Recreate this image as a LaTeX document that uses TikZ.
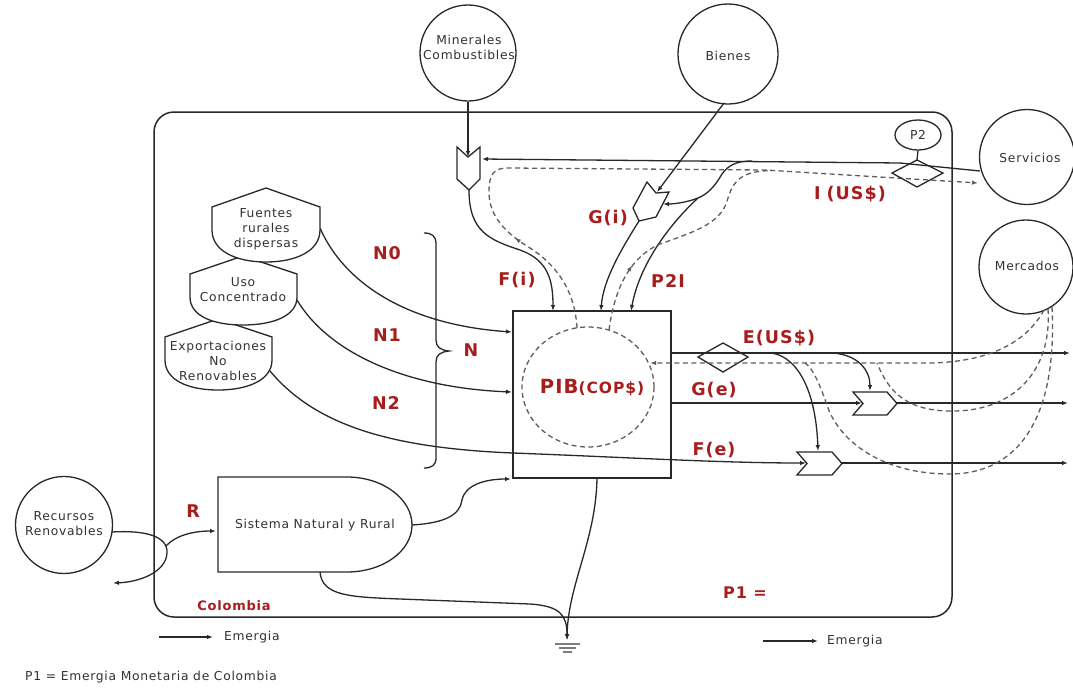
\documentclass[tikz,border=0pt]{standalone}
\usepackage{fontspec}
\setmainfont{DejaVu Sans}[LetterSpace=6]
\usetikzlibrary{arrows.meta,decorations.markings,shapes.geometric}
\definecolor{ink}{RGB}{40,40,40}
\definecolor{txt}{RGB}{50,50,50}
\definecolor{lbl}{RGB}{168,28,28}
\definecolor{earth}{RGB}{125,125,125}
\newcommand\dgsmall{\fontsize{12.3}{15}\selectfont}
\newcommand\dgtag{\fontsize{17.5}{20}\selectfont\bfseries}
\begin{document}
\begin{tikzpicture}[x=1pt,y=-1pt,
  wire/.style={draw=ink, line width=1.3pt},
  flow/.style={wire, -{Latex[length=6pt,width=4.5pt]}},
  money/.style={draw=ink!75, line width=1.3pt, dash pattern=on 5pt off 3.5pt},
  moneyin/.style={money, -{Latex[length=6pt,width=4.5pt]}},
  midtip/.style={postaction={decorate}, decoration={markings,
      mark=at position #1 with {\arrow{Latex[length=6pt,width=4.5pt]}}}},
  circ/.style={draw=ink, line width=1.3pt, circle, inner sep=0pt, minimum size=#1},
  word/.style={text=txt, font=\dgsmall, align=center, inner sep=0pt},
  tag/.style={text=lbl, font=\dgtag, inner sep=0pt},
  gate/.style={draw=ink, line width=1.3pt, fill=white},
  src/.style={draw=ink, line width=1.3pt, fill=white}]

\useasboundingbox[fill=white] (0,0) rectangle (1073,691);

% system boundary
\draw[draw=ink, line width=1.5pt, rounded corners=20pt] (154,112) rectangle (952,617);

% outside sources and sinks
\node[circ=96pt]  (minc) at (468,53) {};
\node[word]       (mint) at (469,47) {Minerales\\Combustibles};
\node[circ=100pt] (bien) at (728,54) {};
\node[word]       (bient) at (728,56) {Bienes};
\node[circ=95pt]  (serv) at (1027,157) {};
\node[word]       (servt) at (1030,158) {Servicios};
\node[circ=94pt]  (merc) at (1026,267) {};
\node[word]       (merct) at (1027,266) {Mercados};
\node[circ=97pt]  (recu) at (64,525) {};
\node[word]       (recut) at (64,524) {Recursos\\Renovables};

% named points used by the connectors
\coordinate (mgN) at (468,157);
\coordinate (mgE) at (482,159);
\coordinate (mgS) at (469,190);
\coordinate (gN) at (657,192);
\coordinate (gE) at (663,204);
\coordinate (gS) at (639,221);
\coordinate (bienS) at (724,103);
\coordinate (svW) at (980,171);
\coordinate (svWd) at (978,183);
\coordinate (jI) at (752,161);
\coordinate (jP) at (698,198);
\coordinate (jM) at (772,170.5);
\coordinate (pT1) at (553,311);
\coordinate (pT2) at (601,311);
\coordinate (pT3) at (631,311);
\coordinate (cTop1) at (577,328);
\coordinate (cTop2) at (609,330);
\coordinate (cR) at (650,363);
\coordinate (pR1) at (671,353);
\coordinate (pR2) at (671,403);
\coordinate (pL1) at (512,332);
\coordinate (pL2) at (512,392);
\coordinate (pL3) at (511,479);
\coordinate (pB) at (597,478);
\coordinate (eOut) at (1070,353);
\coordinate (gOut) at (1068,403);
\coordinate (fOut) at (1068,463);
\coordinate (jE1) at (772,353);
\coordinate (jE2) at (833,353);
\coordinate (geN) at (870,391);
\coordinate (geW) at (862,403);
\coordinate (geE) at (897,403);
\coordinate (feN) at (818,451);
\coordinate (feW) at (806,463);
\coordinate (feE) at (842,463);
\coordinate (mS1) at (1044,310);
\coordinate (mS2) at (1048,309);
\coordinate (mS3) at (1052,307);
\coordinate (jR2) at (877,363);
\coordinate (jR3) at (805,363);
\coordinate (fuR) at (320,228);
\coordinate (usR) at (297,300);
\coordinate (exR) at (270,371);
\coordinate (siR) at (412,525);
\coordinate (siW) at (216,531);
\coordinate (siB) at (320,572);
\coordinate (reR) at (112,532);
\coordinate (reOut) at (113,583);
\coordinate (jR) at (166,546);
\coordinate (gnd) at (567,640);
\coordinate (dIt) at (917,160);

% production box and its money pool
\node[draw=ink, line width=1.3pt, minimum width=158pt, minimum height=167pt,
      inner sep=0pt] (pib) at (592,394.5) {};
\node[draw=ink!75, line width=1.3pt, dash pattern=on 5pt off 3.5pt, ellipse,
      minimum width=132pt, minimum height=120pt, inner sep=0pt] (pibc) at (588,387) {};
\node[text=lbl, inner sep=0pt] (pibt) at (592,388)
  {\fontsize{19.5}{22}\selectfont\bfseries PIB\fontsize{15.5}{18}\selectfont(COP\$)};

% import flows
\draw[flow] (minc.south) -- (mgN);
\draw[flow] (svW) -- (900,163) -- (mgE);
\draw[flow] (jI) .. controls (735,161) and (728,166) .. (722,174)
            .. controls (715,186) and (708,194) .. (jP)
            .. controls (688,202) and (675,204) .. (gE);
\draw[flow] (jP) .. controls (672,222) and (640,262) .. (pT3);
\draw[flow] (bienS) -- (gN);
\draw[flow] (gS) .. controls (622,248) and (603,280) .. (pT2);
\draw[flow] (mgS) .. controls (469,232) and (490,240) .. (520,250)
            .. controls (548,260) and (553,280) .. (pT1);

% money paid for imports
\draw[moneyin, midtip=0.17] (cTop1) .. controls (575,292) and (558,266) .. (530,248)
            .. controls (500,230) and (489,212) .. (489,192)
            .. controls (489,175) and (493,168) .. (508,168) -- (765,170) -- (svWd);
\draw[money, midtip=0.28] (cTop2) .. controls (614,292) and (628,258) .. (660,244)
            .. controls (700,230) and (722,222) .. (728,198)
            .. controls (734,178) and (745,171) .. (jM);

% import gates
\draw[gate] (457,147) -- (468,157) -- (480,147) -- (480,179) -- (469,190) -- (457,179) -- cycle;
\draw[gate] (647,182) -- (656,193) -- (669,192) -- (656,217) -- (639,221) -- (633,208) -- cycle;

% price of imports
\node[draw=ink, line width=1.3pt, ellipse, minimum width=46pt, minimum height=30pt,
      inner sep=0pt, text=txt, font=\dgsmall] (ptwo) at (918,135) {P2};
\draw[wire] (ptwo.south) -- (dIt);
\draw[wire] (892,173) -- (917,160) -- (943,173) -- (917,187) -- cycle;

% exports
\draw[flow] (pR1) -- (eOut);
\draw[wire] (698,357) -- (723,343) -- (748,357) -- (723,372) -- cycle;
\draw[flow] (jE1) .. controls (800,358) and (816,395) .. (feN);
\draw[flow] (jE2) .. controls (858,355) and (870,370) .. (geN);
\draw[flow] (pR2) -- (geW);
\draw[flow] (geE) -- (gOut);
\draw[flow] (exR) .. controls (315,425) and (390,448) .. (513,453)
            .. controls (620,457) and (720,463) .. (feW);
\draw[flow] (feE) -- (fOut);
\draw[gate] (853,392) -- (887,392) -- (897,403.5) -- (887,415) -- (853,415) -- (863,403.5) -- cycle;
\draw[gate] (797,452) -- (832,452) -- (842,463.5) -- (832,475) -- (797,475) -- (807,463.5) -- cycle;

% money received for exports
\draw[moneyin] (mS1) .. controls (1025,345) and (985,362) .. (930,363) -- (cR);
\draw[money] (mS2) .. controls (1052,370) and (1015,410) .. (955,411)
            .. controls (905,412) and (888,390) .. (jR2);
\draw[money] (mS3) .. controls (1058,430) and (1010,474) .. (950,474)
            .. controls (880,474) and (840,440) .. (828,408)
            .. controls (820,385) and (813,368) .. (jR3);

% non-renewable flows into the economy
\draw[flow] (fuR) .. controls (345,285) and (410,325) .. (pL1);
\draw[flow] (usR) .. controls (330,355) and (410,388) .. (pL2);

% non-renewable storages (drawn bottom-up so each hides the one below)
\draw[src] (165,337) -- (218,319) -- (272,337) -- (272,360)
   .. controls (272,380) and (248,390) .. (218,390)
   .. controls (188,390) and (165,380) .. (165,360) -- cycle;
\draw[src] (190,274) -- (243,256) -- (297,274) -- (297,297)
   .. controls (297,316) and (273,325) .. (243,325)
   .. controls (213,325) and (190,316) .. (190,297) -- cycle;
\draw[src] (212,207) -- (266,188) -- (320,207) -- (320,230)
   .. controls (320,251) and (296,262) .. (266,262)
   .. controls (236,262) and (212,251) .. (212,230) -- cycle;
\node[word] (fuent) at (266,229) {Fuentes\\rurales\\dispersas};
\node[word] (usot) at (243,290) {Uso\\Concentrado};
\node[word] (expt) at (218,361) {Exportaciones\\No\\Renovables};

% renewable source and rural system
\draw[flow] (reR) .. controls (145,530) and (168,536) .. (167,553)
            .. controls (166,572) and (140,582) .. (reOut);
\draw[flow] (jR) .. controls (175,536) and (192,531) .. (siW);
\draw[wire, fill=white] (218,477) -- (347,477) .. controls (383,477) and (412,499) .. (412,525)
   .. controls (412,551) and (383,572) .. (347,572) -- (218,572) -- cycle;
\node[word] (sist) at (315,525) {Sistema Natural y Rural};
\draw[flow] (siR) .. controls (445,523) and (460,515) .. (462,500)
            .. controls (465,485) and (485,479) .. (pL3);

% heat sink
\draw[flow] (siB) .. controls (322,596) and (350,597) .. (400,599) -- (530,604)
            .. controls (560,606) and (567,615) .. (gnd);
\draw[flow] (pB) .. controls (596,540) and (568,585) .. (gnd);
\draw[earth, line width=1.6pt] (555,644) -- (580,644);
\draw[earth, line width=1.6pt] (559,648) -- (576,648);
\draw[earth, line width=1.6pt] (563,652) -- (572,652);

% brace grouping N0..N2
\draw[wire] (424,233) .. controls (432,233) and (436,236) .. (436,244) -- (436,340)
   .. controls (436,347) and (440,350) .. (449,351)
   .. controls (440,352) and (436,355) .. (436,362) -- (436,458)
   .. controls (436,465) and (432,468) .. (424,468);

% flow labels
\node[tag] (lN0) at (387,253) {N0};
\node[tag] (lN1) at (387,335) {N1};
\node[tag] (lN2) at (386,403) {N2};
\node[tag] (lN) at (471,350) {N};
\node[tag] (lFi) at (517,280) {F(i)};
\node[tag] (lGi) at (608,218) {G(i)};
\node[tag] (lP2I) at (668,281) {P2I};
\node[tag] (lI) at (850,194) {I\,\,(US\$)};
\node[tag] (lE) at (779,338) {E(US\$)};
\node[tag] (lGe) at (714,390) {G(e)};
\node[tag] (lFe) at (714,450) {F(e)};
\node[tag] (lR) at (193,511) {R};
\node[tag, font=\fontsize{13}{16}\selectfont\bfseries] (lCol) at (234,606) {Colombia};
\node[tag, font=\fontsize{16}{19}\selectfont\bfseries] (lP1) at (745,593) {P1 =};

% legend
\coordinate (lgA1) at (159,637);
\coordinate (lgA2) at (213,637);
\coordinate (lgB1) at (763,641);
\coordinate (lgB2) at (818,641);
\draw[flow] (lgA1) -- (lgA2);
\draw[flow] (lgB1) -- (lgB2);
\node[word, anchor=west] (lgAt) at (224,637) {Emergia};
\node[word, anchor=west] (lgBt) at (827,641) {Emergia};
\node[word, anchor=west] (lgP1) at (25,677) {P1 = Emergia Monetaria de Colombia};

\end{tikzpicture}
\end{document}
